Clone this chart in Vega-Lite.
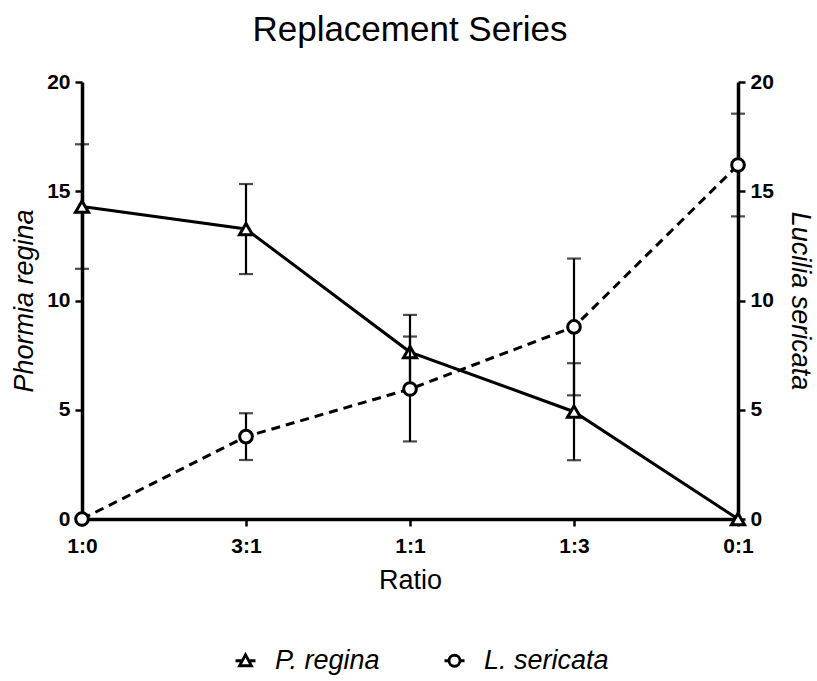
{
  "$schema": "https://vega.github.io/schema/vega-lite/v6.json",
  "width": 656,
  "height": 437,
  "autosize": "none",
  "padding": {"left": 82, "top": 82, "right": 79, "bottom": 162},
  "background": "white",
  "title": {"text": "Replacement Series", "fontSize": 35, "font": "Liberation Sans", "fontWeight": "normal", "color": "black", "anchor": "middle", "frame": "group", "offset": 23},
  "data": {"values": [
    {"ratio": "1:0", "species": "P. regina", "mean": 14.3, "err": 2.85},
    {"ratio": "3:1", "species": "P. regina", "mean": 13.27, "err": 2.06},
    {"ratio": "1:1", "species": "P. regina", "mean": 7.64, "err": 1.7},
    {"ratio": "1:3", "species": "P. regina", "mean": 4.91, "err": 2.22},
    {"ratio": "0:1", "species": "P. regina", "mean": 0, "err": 0},
    {"ratio": "1:0", "species": "L. sericata", "mean": 0, "err": 0},
    {"ratio": "3:1", "species": "L. sericata", "mean": 3.77, "err": 1.07},
    {"ratio": "1:1", "species": "L. sericata", "mean": 5.95, "err": 2.4},
    {"ratio": "1:3", "species": "L. sericata", "mean": 8.79, "err": 3.13},
    {"ratio": "0:1", "species": "L. sericata", "mean": 16.2, "err": 2.35}
  ]},
  "encoding": {
    "x": {"field": "ratio", "type": "ordinal", "sort": ["1:0", "3:1", "1:1", "1:3", "0:1"], "scale": {"type": "point", "padding": 0},
      "axis": {"title": "Ratio", "labelAngle": 0, "labelPadding": 9, "titlePadding": 11, "titleFontStyle": "normal"}}
  },
  "layer": [
    {
      "encoding": {
        "y": {"field": "mean", "type": "quantitative", "scale": {"domain": [0, 20], "nice": false},
          "axis": {"orient": "left", "title": "Phormia regina", "values": [0, 5, 10, 15, 20], "titleFontStyle": "italic", "titlePadding": 8, "labelFlush": false, "labelOverlap": false}}
      },
      "layer": [
        {"transform": [{"filter": "datum.species === 'P. regina' && datum.err > 0"}],
         "mark": {"type": "errorbar", "color": "black", "thickness": 2.2, "ticks": {"size": 14, "thickness": 2.2, "color": "black"}, "rule": {"strokeWidth": 2.2, "color": "black"}},
         "encoding": {"yError": {"field": "err"}}},
        {"transform": [{"filter": "datum.species === 'P. regina'"}],
         "mark": {"type": "line", "color": "black", "strokeWidth": 3}},
        {"transform": [{"filter": "datum.species === 'P. regina'"}],
         "mark": {"type": "point", "shape": "triangle-up", "fill": "white", "stroke": "black", "strokeWidth": 3, "size": 170, "opacity": 1, "filled": false}},
        {"mark": {"type": "point", "filled": false, "stroke": "black", "strokeWidth": 2.8, "size": 400, "opacity": 0},
         "encoding": {"shape": {"field": "species", "type": "nominal",
           "scale": {"domain": ["P. regina", "L. sericata"], "range": ["M-1,0L-0.33,0M0.33,0L1,0M0,-0.6L0.6,0.5L-0.6,0.5Z", "M-1,0L-0.55,0M0.55,0L1,0M0.55,0A0.55,0.55,0,1,1,-0.55,0A0.55,0.55,0,1,1,0.55,0Z"]},
           "legend": {"orient": "none", "legendX": 150, "legendY": 565, "direction": "horizontal", "title": null,
             "labelFont": "Liberation Sans", "labelFontSize": 27, "labelFontStyle": "italic", "labelColor": "black",
             "symbolSize": 400, "symbolStrokeWidth": 2.8, "symbolStrokeColor": "black", "symbolOpacity": 1,
             "labelOffset": 16, "columnPadding": 58, "padding": 0}}}}
      ]
    },
    {
      "transform": [{"filter": "datum.species === 'L. sericata'"}],
      "encoding": {
        "y": {"field": "mean", "type": "quantitative", "scale": {"domain": [0, 20], "nice": false},
          "axis": {"orient": "right", "title": "Lucilia sericata", "values": [0, 5, 10, 15, 20], "titleFontStyle": "italic", "titleAngle": 90, "titlePadding": 12, "labelFlush": false, "labelOverlap": false}}
      },
      "layer": [
        {"transform": [{"filter": "datum.err > 0"}],
         "mark": {"type": "errorbar", "color": "black", "thickness": 2.2, "ticks": {"size": 14, "thickness": 2.2, "color": "black"}, "rule": {"strokeWidth": 2.2, "color": "black"}},
         "encoding": {"yError": {"field": "err"}}},
        {"mark": {"type": "line", "color": "black", "strokeWidth": 3, "strokeDash": [9, 6]}},
        {"mark": {"type": "point", "shape": "circle", "fill": "white", "stroke": "black", "strokeWidth": 3, "size": 160, "opacity": 1, "filled": false}}
      ]
    }
  ],
  "resolve": {"scale": {"y": "independent"}},
  "config": {
    "font": "Liberation Sans",
    "view": {"stroke": null},
    "axis": {"domainColor": "black", "domainWidth": 3.5, "tickColor": "black", "tickWidth": 2.5, "tickSize": 7,
      "labelFont": "Liberation Sans", "labelFontWeight": "bold", "labelFontSize": 21, "labelColor": "black", "labelPadding": 5,
      "titleFont": "Liberation Sans", "titleFontSize": 27, "titleFontWeight": "normal", "titleColor": "black", "grid": false}
  }
}
